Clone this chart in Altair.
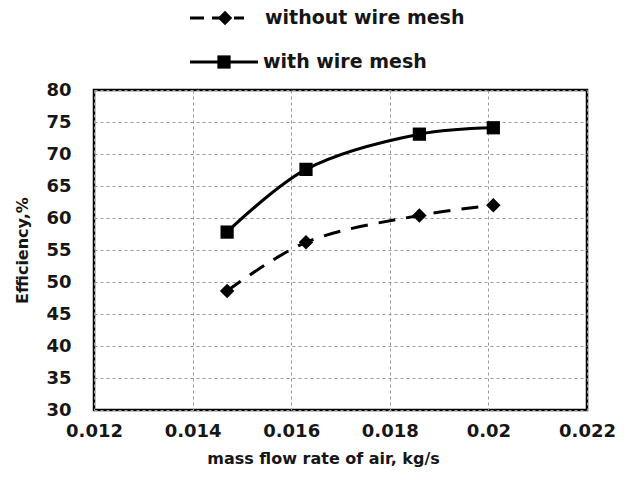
import altair as alt
import pandas as pd

# ---- data ----
mass_flow = [0.0147, 0.0163, 0.0186, 0.0201]
eff_without = [48.6, 56.2, 60.4, 62.0]
eff_with = [57.8, 67.6, 73.1, 74.1]
series_names = ["without wire mesh", "with wire mesh"]
x_ticks = [0.012, 0.014, 0.016, 0.018, 0.02, 0.022]
y_ticks = [30, 35, 40, 45, 50, 55, 60, 65, 70, 75, 80]

df_wo = pd.DataFrame({"x": mass_flow, "y": eff_without})
df_w = pd.DataFrame({"x": mass_flow, "y": eff_with})

FONT = "DejaVu Sans"
TXT = "#161616"

xs = alt.Scale(domain=[0.012, 0.022], nice=False, zero=False)
ys = alt.Scale(domain=[30, 80], nice=False, zero=False)

xenc = alt.X("x:Q", scale=xs, axis=alt.Axis(
    values=x_ticks, format="~g", title="mass flow rate of air, kg/s",
    titleX=229, titleY=48, titleAlign="center", titleBaseline="middle",
    labelPadding=12, labelFlush=False, labelOverlap=False))
yenc = alt.Y("y:Q", scale=ys, axis=alt.Axis(
    values=y_ticks, title="Efficiency,%",
    titleX=-72, titleY=160, titleAlign="center", titleBaseline="middle",
    titleAngle=-90, labelPadding=23, labelFlush=False, labelOverlap=False))

line_wo = alt.Chart(df_wo).mark_line(
    color="black", strokeWidth=3, strokeDash=[17, 11], interpolate="catmull-rom"
).encode(x=xenc, y=yenc)
pts_wo = alt.Chart(df_wo).mark_point(
    shape="diamond", filled=True, size=210, color="black", opacity=1
).encode(x=xenc, y=yenc)

line_w = alt.Chart(df_w).mark_line(
    color="black", strokeWidth=3, interpolate="catmull-rom"
).encode(x=xenc, y=yenc)
pts_w = alt.Chart(df_w).mark_point(
    shape="square", filled=True, size=175, color="black", opacity=1
).encode(x=xenc, y=yenc)

# ---- manual legend above the plot ----
leg1 = pd.DataFrame({"label": [series_names[0]]})
leg2 = pd.DataFrame({"label": [series_names[1]]})

l1_rule = alt.Chart(leg1).mark_rule(color="black", strokeWidth=3, strokeDash=[14, 8]).encode(
    x=alt.value(96), x2=alt.value(150), y=alt.value(-72))
l1_pt = alt.Chart(leg1).mark_point(shape="diamond", filled=True, size=210, color="black", opacity=1).encode(
    x=alt.value(131), y=alt.value(-72))
l1_txt = alt.Chart(leg1).mark_text(align="left", baseline="middle", font=FONT, fontSize=19,
                                   fontWeight="bold", color=TXT).encode(
    x=alt.value(171), y=alt.value(-72), text="label:N")

l2_rule = alt.Chart(leg2).mark_rule(color="black", strokeWidth=3).encode(
    x=alt.value(96), x2=alt.value(164), y=alt.value(-28))
l2_pt = alt.Chart(leg2).mark_point(shape="square", filled=True, size=175, color="black", opacity=1).encode(
    x=alt.value(130), y=alt.value(-28))
l2_txt = alt.Chart(leg2).mark_text(align="left", baseline="middle", font=FONT, fontSize=19,
                                   fontWeight="bold", color=TXT).encode(
    x=alt.value(169), y=alt.value(-28), text="label:N")

chart = alt.layer(
    line_wo, pts_wo, line_w, pts_w,
    l1_rule, l1_pt, l1_txt, l2_rule, l2_pt, l2_txt
).properties(
    width=493, height=320,
    padding={"left": 94, "top": 90, "right": 55, "bottom": 70},
    autosize=alt.AutoSizeParams(type="none"),
    background="white",
).configure_view(
    stroke="black", strokeWidth=2.5
).configure_axis(
    grid=True, gridDash=[3, 3], gridColor="#999", gridWidth=1,
    ticks=False, tickSize=0, domain=False,
    labelFont=FONT, labelFontSize=18, labelFontWeight="bold", labelColor=TXT,
    titleFont=FONT, titleFontSize=16, titleFontWeight="bold", titleColor=TXT,
)

chart.save("out.html", embed_options={"renderer": "svg", "actions": False})
